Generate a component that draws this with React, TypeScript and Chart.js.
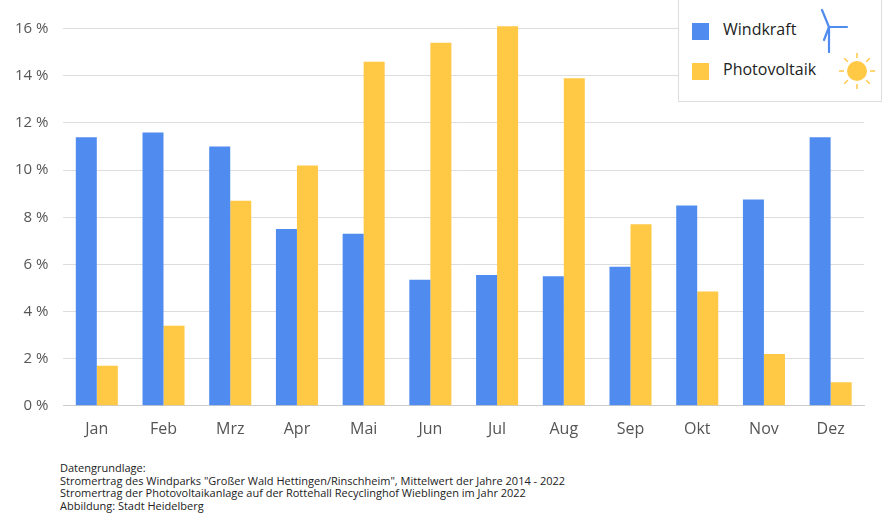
import React, { useEffect, useRef } from "react";
import { Chart, registerables } from "chart.js";
Chart.register(...registerables);

const months = ["Jan","Feb","Mrz","Apr","Mai","Jun","Jul","Aug","Sep","Okt","Nov","Dez"];
const wind = [11.4, 11.6, 11.0, 7.5, 7.3, 5.35, 5.55, 5.5, 5.9, 8.5, 8.75, 11.4];
const pv = [1.7, 3.4, 8.7, 10.2, 14.6, 15.4, 16.1, 13.9, 7.7, 4.85, 2.2, 1.0];
const yTicks = [0, 2, 4, 6, 8, 10, 12, 14, 16];
const footnote = [
  "Datengrundlage:",
  'Stromertrag des Windparks "Großer Wald Hettingen/Rinschheim", Mittelwert der Jahre 2014 - 2022',
  "Stromertrag der Photovoltaikanlage auf der Rottehall Recyclinghof Wieblingen im Jahr 2022",
  "Abbildung: Stadt Heidelberg",
];
const BLUE = "#508cf0";
const YELLOW = "#ffc845";
const FONT = "'Open Sans', 'Noto Sans', sans-serif";

export default function App() {
  const ref = useRef<HTMLCanvasElement>(null);
  useEffect(() => {
    const c = new Chart(ref.current!, {
      type: "bar",
      data: {
        labels: months,
        datasets: [
          { label: "Windkraft", data: wind, backgroundColor: BLUE },
          { label: "Photovoltaik", data: pv, backgroundColor: YELLOW },
        ],
      },
      options: {
        animation: false,
        responsive: false,
        layout: { padding: { top: 6, right: 22, bottom: 0, left: 0 } },
        plugins: { legend: { display: false }, tooltip: { enabled: false } },
        datasets: { bar: { categoryPercentage: 0.63, barPercentage: 1 } },
        scales: {
          x: {
            grid: { display: false },
            border: { color: "#ccc" },
            ticks: { color: "#555", font: { family: FONT, size: 16 }, padding: 6 },
          },
          y: {
            min: 0, max: 16.2,
            afterBuildTicks: (ax: any) => { ax.ticks = yTicks.map(v => ({ value: v })); },
            grid: { color: "#ddd", drawTicks: false },
            border: { display: false },
            ticks: { color: "#555", font: { family: FONT, size: 15 }, padding: 15, callback: (v: any) => v + " %" },
          },
        },
      },
    });
    return () => c.destroy();
  }, []);
  return (
    <div style={{ position: "fixed", left: 0, top: 0, width: 886, height: 525, background: "#fff", fontFamily: FONT }}>
      <canvas ref={ref} width={886} height={445} style={{ position: "absolute", left: 0, top: 0 }} />
      <div style={{ position: "absolute", left: 678, top: -2, width: 204, height: 104, background: "#fff", border: "1px solid #ddd", boxSizing: "border-box" }}>
        <div style={{ position: "absolute", left: 13, top: 24, width: 17, height: 17, background: BLUE }} />
        <div style={{ position: "absolute", left: 44, top: 19, fontSize: 16, color: "#222" }}>Windkraft</div>
        <svg style={{ position: "absolute", left: 140, top: 8 }} width="36" height="46" viewBox="0 0 36 46">
          <g stroke={BLUE} strokeWidth="2.2" fill="none" strokeLinecap="round">
            <line x1="10" y1="20" x2="10" y2="45" />
            <line x1="10" y1="20" x2="3" y2="3" />
            <line x1="10" y1="20" x2="28" y2="20" />
            <line x1="10" y1="20" x2="5" y2="33" />
          </g>
        </svg>
        <div style={{ position: "absolute", left: 13, top: 64, width: 17, height: 17, background: YELLOW }} />
        <div style={{ position: "absolute", left: 44, top: 59, fontSize: 16, color: "#222" }}>Photovoltaik</div>
        <svg style={{ position: "absolute", left: 158, top: 52 }} width="40" height="40" viewBox="0 0 40 40">
          <circle cx="20" cy="20" r="10" fill={YELLOW} />
          <g stroke={YELLOW} strokeWidth="1.5">
            {[0,45,90,135,180,225,270,315].map(a => {
              const r = (a * Math.PI) / 180;
              return <line key={a} x1={20 + 13 * Math.cos(r)} y1={20 + 13 * Math.sin(r)} x2={20 + 18 * Math.cos(r)} y2={20 + 18 * Math.sin(r)} />;
            })}
          </g>
        </svg>
      </div>
      <div style={{ position: "absolute", left: 60, top: 462, fontSize: 11, lineHeight: "12.7px", color: "#222" }}>
        {footnote.map((l, i) => <div key={i}>{l}</div>)}
      </div>
    </div>
  );
}
